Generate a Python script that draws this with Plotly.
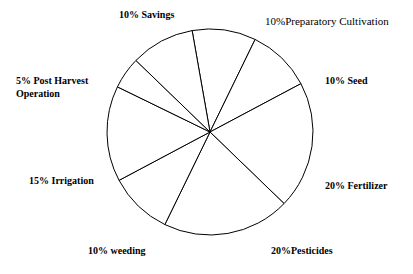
import plotly.graph_objects as go

# Cost shares of the cultivation budget (percent), clockwise from the top
categories = ["Preparatory Cultivation", "Seed", "Fertilizer", "Pesticides",
              "weeding", "Irrigation", "Post Harvest<br>Operation", "Savings"]
shares = [10, 10, 20, 20, 10, 15, 5, 10]
label_texts = ["10%Preparatory Cultivation", "10% Seed", "20% Fertilizer",
               "20%Pesticides", "10% weeding", "15% Irrigation",
               "5% Post Harvest<br>Operation", "10% Savings"]
label_bold = [False, True, True, True, True, True, True, True]

W, H = 413, 274
cx, cy, r = 210, 132, 103  # pie centre and radius in pixels

fig = go.Figure(go.Pie(
    labels=categories,
    values=shares,
    sort=False,
    direction="clockwise",
    rotation=-10,
    textinfo="none",
    hoverinfo="skip",
    showlegend=False,
    marker=dict(colors=["white"] * len(shares), line=dict(color="black", width=1)),
    domain=dict(x=[(cx - r) / W, (cx + r) / W],
                y=[(H - cy - r) / H, (H - cy + r) / H]),
))

# Label anchor positions (pixels from top-left)
label_pos = [(263, 21), (323, 80), (323, 185), (269, 250),
             (86, 250), (27, 180), (14, 87), (117, 15)]

SERIF = "Times New Roman, Liberation Serif, DejaVu Serif, serif"

for txt, bold, (x, y) in zip(label_texts, label_bold, label_pos):
    fig.add_annotation(
        x=x / W, y=1 - y / H, xref="paper", yref="paper",
        xanchor="left", yanchor="middle", align="left", showarrow=False,
        text=f"<b>{txt}</b>" if bold else txt,
        font=dict(family=SERIF, size=10 if bold else 11, color="black"),
    )

fig.update_layout(
    width=W, height=H, autosize=False,
    margin=dict(l=0, r=0, t=0, b=0),
    paper_bgcolor="white", plot_bgcolor="white",
    font=dict(family=SERIF),
)

fig.write_html("out.html")
